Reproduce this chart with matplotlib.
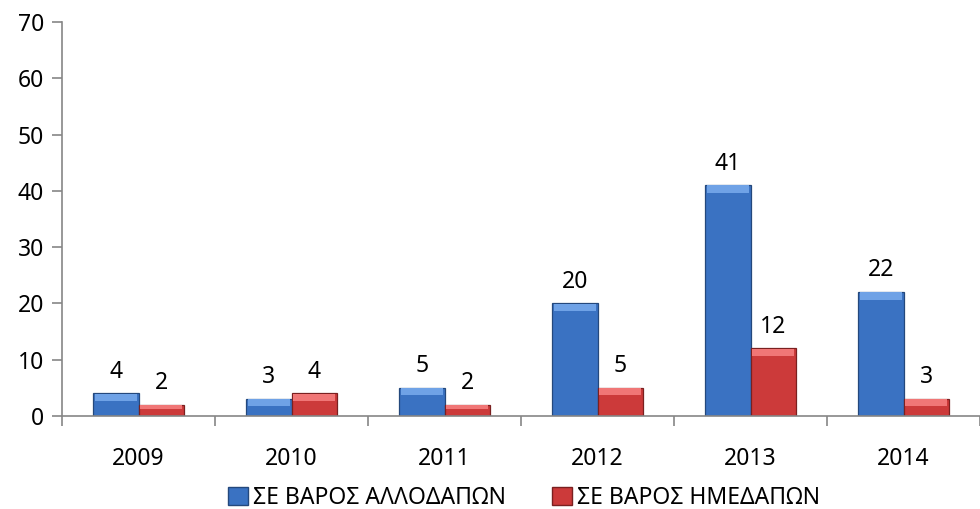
import numpy as np
import matplotlib.pyplot as plt
from matplotlib.patches import Patch

# Δεδομένα
years = ['2009', '2010', '2011', '2012', '2013', '2014']
allodapon = [4, 3, 5, 20, 41, 22]
imedapon = [2, 4, 2, 5, 12, 3]
labels = ['ΣΕ ΒΑΡΟΣ ΑΛΛΟΔΑΠΩΝ', 'ΣΕ ΒΑΡΟΣ ΗΜΕΔΑΠΩΝ']

plt.rcParams['font.family'] = ['Noto Sans', 'DejaVu Sans']
fs = 16.5

blue = '#3a72c2'
blue_edge = '#24487c'
blue_light = '#6fa2e6'
red = '#cc3a3a'
red_edge = '#7a2020'
red_light = '#f07676'

fig = plt.figure(figsize=(9.8, 5.09), dpi=100)
ax = fig.add_axes([0.0633, 0.1827, 0.9367, 0.7741])

x = np.arange(len(years))
w = 0.295

def bevel_bars(xpos, vals, face, edge, light):
    ax.bar(xpos, vals, w, color=face, edgecolor=edge, linewidth=0.9, zorder=2)
    # franja clara arriba para imitar el bisel
    strip = [min(1.3, v * 0.4) for v in vals]
    ax.bar(xpos, strip, w * 0.94, bottom=[v - s * 1.03 for v, s in zip(vals, strip)],
           color=light, linewidth=0, zorder=3)

bevel_bars(x - w / 2, allodapon, blue, blue_edge, blue_light)
bevel_bars(x + w / 2, imedapon, red, red_edge, red_light)

for xi, v in zip(x - w / 2, allodapon):
    ax.annotate(str(v), (xi, v), xytext=(0, 7), textcoords='offset points',
                ha='center', va='bottom', fontsize=fs)
for xi, v in zip(x + w / 2, imedapon):
    ax.annotate(str(v), (xi, v), xytext=(0, 7), textcoords='offset points',
                ha='center', va='bottom', fontsize=fs)

ax.set_xlim(-0.5, len(years) - 0.5)
ax.set_ylim(0, 70)
ax.set_yticks(range(0, 71, 10))
ax.set_xticks(x)
ax.set_xticklabels(years)
ax.set_xticks(np.arange(-0.5, len(years), 1), minor=True)

for s in ['top', 'right']:
    ax.spines[s].set_visible(False)
for s in ['left', 'bottom']:
    ax.spines[s].set_color('#868686')
    ax.spines[s].set_linewidth(1.2)

ax.tick_params(axis='y', length=7, color='#868686', width=1.2, labelsize=fs, pad=6)
ax.tick_params(axis='x', which='major', length=0, labelsize=fs, pad=22)
ax.tick_params(axis='x', which='minor', length=7, color='#868686', width=1.2)

handles = [Patch(facecolor=blue, edgecolor=blue_edge), Patch(facecolor=red, edgecolor=red_edge)]
fig.legend(handles, labels, loc='lower center', bbox_to_anchor=(0.535, -0.042), ncol=2,
           frameon=False, fontsize=fs, handlelength=0.85, handleheight=0.85,
           handletextpad=0.25, columnspacing=2.0)

plt.savefig('out.png', dpi=100)
